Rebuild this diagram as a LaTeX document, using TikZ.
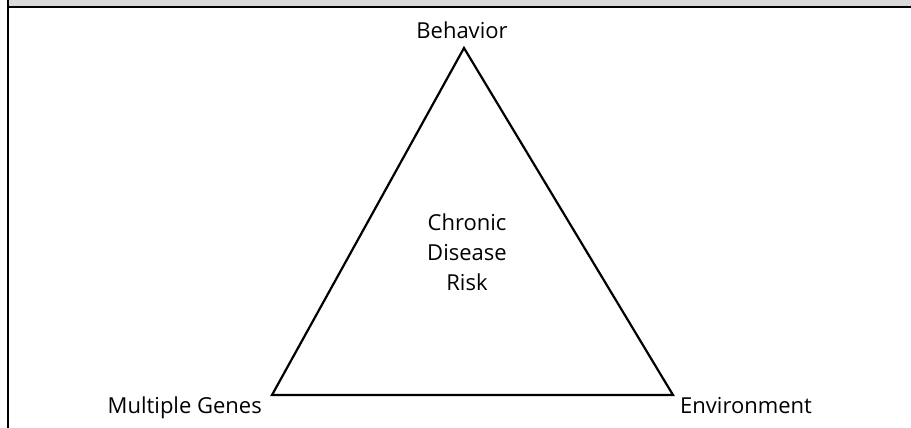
\documentclass[tikz,border=0pt]{standalone}
\usepackage{fontspec}
\setmainfont{Open Sans}
\usetikzlibrary{positioning}

\begin{document}
\begin{tikzpicture}[x=1pt,y=-1pt,
    lbl/.style={font=\fontsize{22}{30}\selectfont, inner sep=0pt}]
  \colorlet{band}{black!15}
  \useasboundingbox (0,0) rectangle (911,428);
  \fill[band] (8,0) rectangle (911,7);
  \draw[line width=1.5pt] (8,7) -- (911,7);
  \draw[line width=2.5pt] (8,0) -- (8,428);
  \coordinate (beh) at (464,48);
  \coordinate (gen) at (272,395);
  \coordinate (env) at (673,395);
  \draw[line width=2.2pt] (beh) -- (gen) -- (env) -- cycle;
  \node[lbl, anchor=base] (behlbl) at (462,39) {Behavior};
  \node[lbl, anchor=base east] (genlbl) at (262,413) {Multiple Genes};
  \node[lbl, anchor=base west] (envlbl) at (680,413) {Environment};
  \node[lbl, align=center, anchor=base] (risk) at (467,290) {Chronic\\Disease\\Risk};
\end{tikzpicture}
\end{document}
